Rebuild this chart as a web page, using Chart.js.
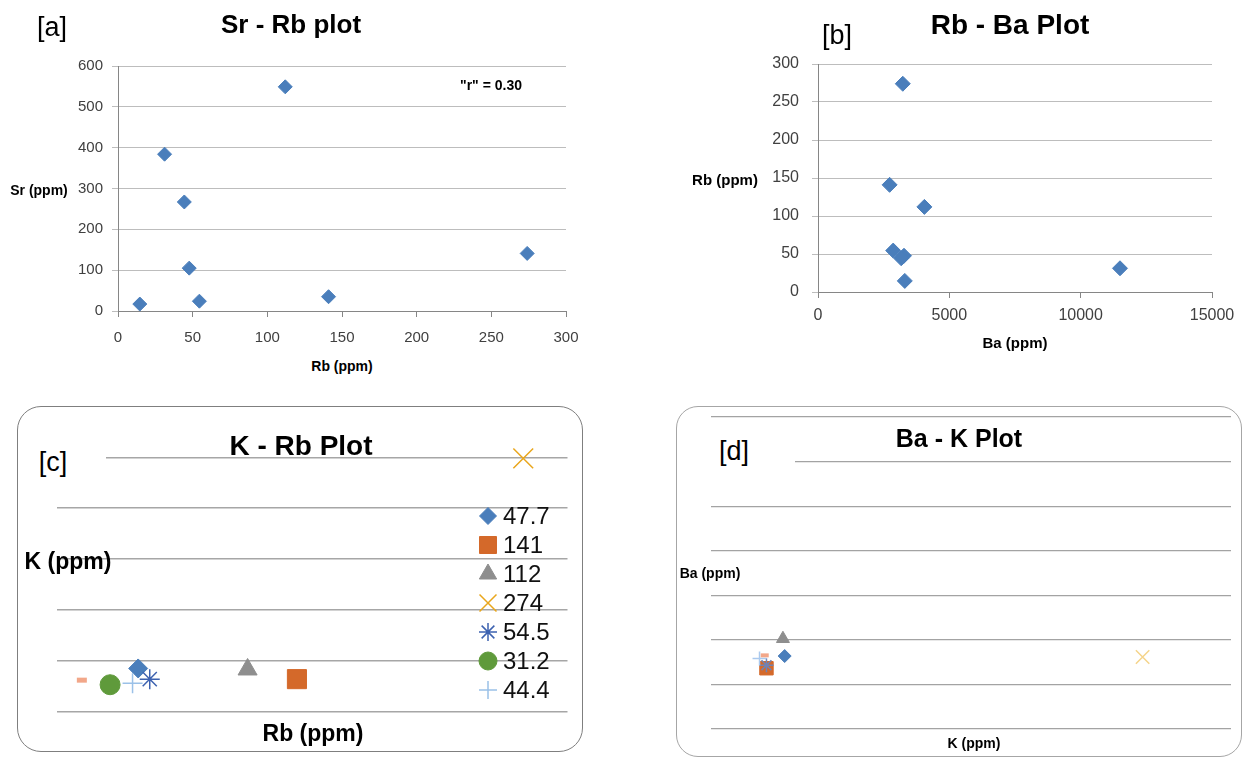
<!DOCTYPE html>
<html>
<head>
<meta charset="utf-8">
<script src="https://cdn.jsdelivr.net/npm/chart.js@4/dist/chart.umd.min.js"></script>
<style>
  body { margin: 0; background: #fff; width: 1247px; height: 757px; position: relative; overflow: hidden;
         font-family: 'Liberation Sans', Arial, sans-serif; }
  canvas { position: absolute; }
  .t { position: absolute; transform: translate(-50%, -50%); white-space: nowrap; color: #000; z-index: 2; }
  .b { font-weight: bold; }
  .box { position: absolute; box-sizing: border-box; }
  .cover { position: absolute; background: #fff; z-index: 1; }
</style>
</head>
<body>
<canvas id="chartA" width="600" height="310" style="left:0;top:40px"></canvas>
<canvas id="chartB" width="607" height="300" style="left:640px;top:40px"></canvas>
<div class="box" style="left:17px;top:406px;width:566px;height:346px;border:1.5px solid #7f7f7f;border-radius:24px"></div>
<div class="box" style="left:676px;top:406px;width:566px;height:351px;border:1px solid #a6a6a6;border-radius:22px"></div>
<canvas id="chartC" width="566" height="346" style="left:17px;top:406px"></canvas>
<canvas id="chartD" width="566" height="351" style="left:676px;top:406px"></canvas>

<div class="cover" style="left:24px;top:440px;width:82px;height:40px"></div>
<div class="cover" style="left:711px;top:420px;width:84px;height:68px"></div>

<div class="t" style="left:52px;top:27px;font-size:27px">[a]</div>
<div class="t b" style="left:291px;top:24px;font-size:26px">Sr - Rb plot</div>
<div class="t b" style="left:491px;top:85px;font-size:14px">"r" = 0.30</div>
<div class="t b" style="left:39px;top:190px;font-size:14px">Sr (ppm)</div>
<div class="t b" style="left:342px;top:366px;font-size:14px">Rb (ppm)</div>

<div class="t" style="left:837px;top:35px;font-size:27px">[b]</div>
<div class="t b" style="left:1010px;top:25px;font-size:28px">Rb - Ba Plot</div>
<div class="t b" style="left:725px;top:179px;font-size:15px">Rb (ppm)</div>
<div class="t b" style="left:1015px;top:342px;font-size:15px">Ba (ppm)</div>

<div class="t" style="left:53px;top:462px;font-size:27px">[c]</div>
<div class="t b" style="left:301px;top:446px;font-size:28px">K - Rb Plot</div>
<div class="t b" style="left:68px;top:561px;font-size:23px">K (ppm)</div>
<div class="t b" style="left:313px;top:733px;font-size:23px">Rb (ppm)</div>

<div class="t" style="left:734px;top:451px;font-size:27px">[d]</div>
<div class="t b" style="left:959px;top:438px;font-size:25px">Ba - K Plot</div>
<div class="t b" style="left:710px;top:573px;font-size:14px">Ba (ppm)</div>
<div class="t b" style="left:974px;top:743px;font-size:14px">K (ppm)</div>

<script>
// sample chemistry (ppm), one entry per sample
const sampleRb = [47.7, 141, 112, 274, 54.5, 31.2, 44.4, 14.6];
const sampleSr = [105, 35, 549, 141, 24, 384, 267, 17];
const sampleBa = [3274, 2726, 4050, 3228, 2863, 11497, 3167, 3304];
const sampleK = [8500, 6400, 8300, 49800, 6400, 5300, 5600, 6200];
const legendLabels = ['47.7', '141', '112', '274', '54.5', '31.2', '44.4', ''];

// axis ranges [min, max, step]
const rbAxis = [0, 300, 50];
const srAxis = [0, 600, 100];
const baAxisB = [0, 15000, 5000];
const rbAxisB = [0, 300, 50];
const kAxisC = [0, 50000, 10000];
const kAxisD = [0, 60000, 10000];
const baAxisD = [0, 14000, 2000];

// marker look per sample (c and d panels)
const markers = [
    { style: 'rectRot', color: '#4a7ebb', w: 1, rc: 9.5, rd: 6.5, rl: 8.5 },
    { style: 'rect', color: '#d4692a', w: 1, rc: 13.5, rd: 9.5, rl: 12 },
    { style: 'triangle', color: '#8e8e8e', w: 1, rc: 11, rd: 7.5, rl: 10 },
    { style: 'crossRot', color: '#e9a61c', dcolor: '#f5d48a', w: 1.5, rc: 14, rd: 9.5, rl: 12 },
    { style: 'star', color: '#3d62b0', dcolor: '#6f83b5', w: 1.5, rc: 10, rd: 7, rl: 9 },
    { style: 'circle', color: '#5f9a3b', w: 1, rc: 10, rd: 7, rl: 9 },
    { style: 'cross', color: '#9bc1e8', dcolor: '#aac9ee', w: 1.5, rc: 10, rd: 7, rl: 9 },
    { style: 'line', color: '#f2a789', w: 5, rc: 5, rd: 4, rl: 0 }
];

Chart.defaults.font.family = "'Liberation Sans', Arial, sans-serif";
Chart.defaults.animation = false;
Chart.defaults.responsive = false;
Chart.defaults.plugins.legend.display = false;
Chart.defaults.plugins.tooltip.enabled = false;

function pairs(xs, ys) {
    return xs.map((x, i) => ({ x: x, y: ys[i] }));
}

function axis(range, fit, extra) {
    return Object.assign({
        type: 'linear', min: range[0], max: range[1],
        afterFit: fit
    }, extra);
}

// plain blue diamond scatter for a and b
function diamondChart(id, xs, ys, xr, yr, lay) {
    new Chart(document.getElementById(id), {
        type: 'scatter',
        data: {
            datasets: [{
                data: pairs(xs, ys),
                pointStyle: 'rectRot', pointRadius: lay.r,
                backgroundColor: '#4a7ebb', borderColor: '#4a7ebb', borderWidth: 1,
                clip: false
            }]
        },
        options: {
            layout: { padding: { top: lay.top, right: lay.right, left: 0, bottom: 0 } },
            scales: {
                x: axis(xr, s => { s.height = lay.xh; }, {
                    ticks: { stepSize: xr[2], color: '#404040', font: { size: lay.font }, padding: lay.xpad,
                             format: { useGrouping: false } },
                    grid: { drawOnChartArea: false, tickLength: 6, tickColor: '#868686' },
                    border: { color: '#868686' }
                }),
                y: axis(yr, s => { s.width = lay.yw; }, {
                    ticks: { stepSize: yr[2], color: '#404040', font: { size: lay.font }, padding: lay.ypad },
                    grid: { color: '#bdbdbd', tickLength: 6, tickColor: '#bdbdbd' },
                    border: { color: '#868686' }
                })
            }
        }
    });
}

diamondChart('chartA', sampleRb, sampleSr, rbAxis, srAxis,
    { r: 7, top: 26, right: 34, xh: 39, yw: 118, font: 15, xpad: 12, ypad: 9 });
diamondChart('chartB', sampleBa, sampleRb, baAxisB, rbAxisB,
    { r: 7.5, top: 24, right: 35, xh: 48, yw: 178, font: 16, xpad: 8, ypad: 13 });

// legend drawn inside the plot area of panel c
const insideLegend = {
    id: 'insideLegend',
    afterDatasetsDraw(chart, args, opts) {
        if (!opts.show) return;
        const ctx = chart.ctx;
        let y = opts.top;
        chart.data.datasets.forEach(ds => {
            if (!ds.label) return;
            ctx.save();
            ctx.fillStyle = ds.backgroundColor;
            ctx.strokeStyle = ds.borderColor;
            ctx.lineWidth = ds.borderWidth;
            Chart.helpers.drawPoint(ctx, {
                pointStyle: ds.pointStyle, radius: ds.legendRadius, rotation: 0, borderWidth: ds.borderWidth
            }, opts.x, y);
            ctx.fillStyle = '#111';
            ctx.font = "24px 'Liberation Sans', Arial, sans-serif";
            ctx.textBaseline = 'middle';
            ctx.fillText(ds.label, opts.x + 15, y + 1);
            ctx.restore();
            y += opts.step;
        });
    }
};

function markerChart(id, xs, ys, xr, yr, lay, panel) {
    const datasets = markers.map((m, i) => {
        const col = panel === 'd' && m.dcolor ? m.dcolor : m.color;
        return {
            label: panel === 'c' ? legendLabels[i] : '',
            data: [{ x: xs[i], y: ys[i] }],
            pointStyle: m.style,
            pointRadius: panel === 'c' ? m.rc : m.rd,
            legendRadius: m.rl,
            backgroundColor: col, borderColor: col,
            borderWidth: panel === 'd' && m.style === 'line' ? 4 : m.w,
            clip: false,
            order: -i
        };
    });
    new Chart(document.getElementById(id), {
        type: 'scatter',
        data: { datasets: datasets },
        plugins: [insideLegend],
        options: {
            layout: { padding: { top: lay.top, right: lay.right, left: 0, bottom: 0 } },
            plugins: { insideLegend: lay.legend || { show: false } },
            scales: {
                x: axis(xr, s => { s.height = lay.xh; }, {
                    ticks: { stepSize: xr[2], display: false },
                    grid: { display: false },
                    border: { display: false }
                }),
                y: axis(yr, s => { s.width = lay.yw; }, {
                    ticks: { stepSize: yr[2], display: false },
                    grid: { color: lay.grid, lineWidth: lay.gw, drawTicks: false },
                    border: { display: false }
                })
            }
        }
    });
}

markerChart('chartC', sampleRb, sampleK, rbAxis, kAxisC,
    { top: 51.3, right: 13, xh: 40.3, yw: 40, grid: '#a6a6a6', gw: 1.6,
      legend: { show: true, x: 471, top: 110, step: 29 } }, 'c');
markerChart('chartD', sampleK, sampleBa, kAxisD, baAxisD,
    { top: 8, right: 8, xh: 28, yw: 35, grid: '#a3a3a3', gw: 1.2 }, 'd');
</script>
</body>
</html>
